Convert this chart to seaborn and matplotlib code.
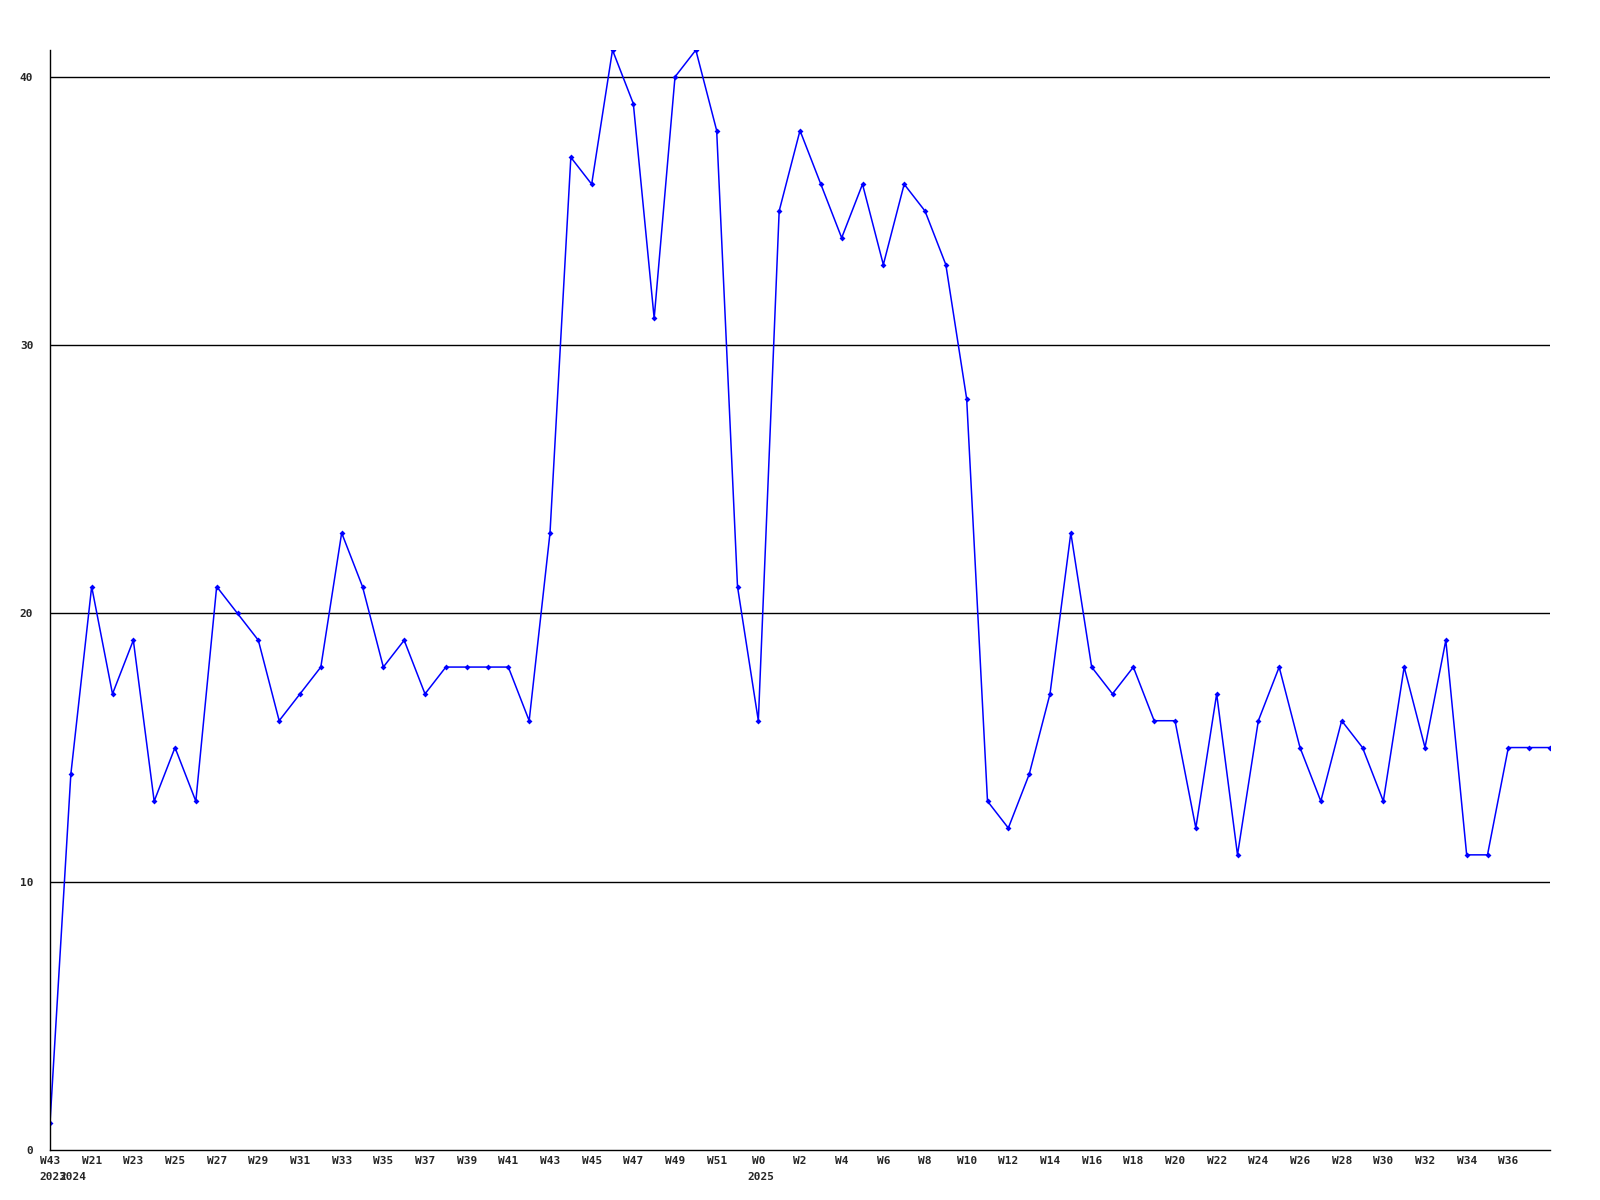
import pandas as pd
import matplotlib
matplotlib.use("Agg")
import matplotlib.pyplot as plt
import seaborn as sns

# one point per week
weeks = ["W43",
         "W20", "W21", "W22", "W23", "W24", "W25", "W26", "W27", "W28", "W29",
         "W30", "W31", "W32", "W33", "W34", "W35", "W36", "W37", "W38", "W39",
         "W40", "W41", "W42", "W43", "W44", "W45", "W46", "W47", "W48", "W49",
         "W50", "W51", "W52",
         "W0", "W1", "W2", "W3", "W4", "W5", "W6", "W7", "W8", "W9",
         "W10", "W11", "W12", "W13", "W14", "W15", "W16", "W17", "W18", "W19",
         "W20", "W21", "W22", "W23", "W24", "W25", "W26", "W27", "W28", "W29",
         "W30", "W31", "W32", "W33", "W34", "W35", "W36", "W37", "W38"]
years = {0: "2023", 1: "2024", 34: "2025"}
values = [1,
          14, 21, 17, 19, 13, 15, 13, 21, 20, 19,
          16, 17, 18, 23, 21, 18, 19, 17, 18, 18,
          18, 18, 16, 23, 37, 36, 41, 39, 31, 40,
          41, 38, 21,
          16, 35, 38, 36, 34, 36, 33, 36, 35, 33,
          28, 13, 12, 14, 17, 23, 18, 17, 18, 16,
          16, 12, 17, 11, 16, 18, 15, 13, 16, 15,
          13, 18, 15, 19, 11, 11, 15, 15, 15]

df = pd.DataFrame({"idx": range(len(values)), "value": values, "week": weeks})

sns.set_style("white")
plt.rcParams["font.family"] = ["DejaVu Sans Mono"]
plt.rcParams["font.weight"] = "bold"

fig = plt.figure(figsize=(16, 12), dpi=100)
ax = fig.add_axes([0.03125, 0.0417, 0.9375, 0.9166])

sns.lineplot(data=df, x="idx", y="value", ax=ax, color="#0000ff", linewidth=1.1,
             marker="D", markersize=3, markeredgewidth=0, clip_on=True)

ax.set_xlim(0, len(values) - 1)
ax.set_ylim(0, 41)
ax.set_yticks([0, 10, 20, 30, 40])
for v in [10, 20, 30, 40]:
    ax.axhline(v, color="black", linewidth=1, zorder=0)

tick_pos = list(range(0, len(values) - 1, 2))
ax.set_xticks(tick_pos)
ax.set_xticklabels([weeks[i] for i in tick_pos], fontsize=8, fontweight="bold")
ax.tick_params(axis="both", length=0, labelsize=8)
ax.tick_params(axis="x", pad=4)
ax.tick_params(axis="y", pad=12)

for i, yr in years.items():
    ax.annotate(yr, xy=(i, 0), xycoords=("data", "axes fraction"),
                xytext=(-8, -16), textcoords="offset points",
                ha="left", va="top", fontsize=8, fontweight="bold")

ax.set_xlabel("")
ax.set_ylabel("")
for side in ["top", "right"]:
    ax.spines[side].set_visible(False)
for side in ["left", "bottom"]:
    ax.spines[side].set_color("black")
    ax.spines[side].set_linewidth(1)

fig.savefig("out.png", dpi=100)
